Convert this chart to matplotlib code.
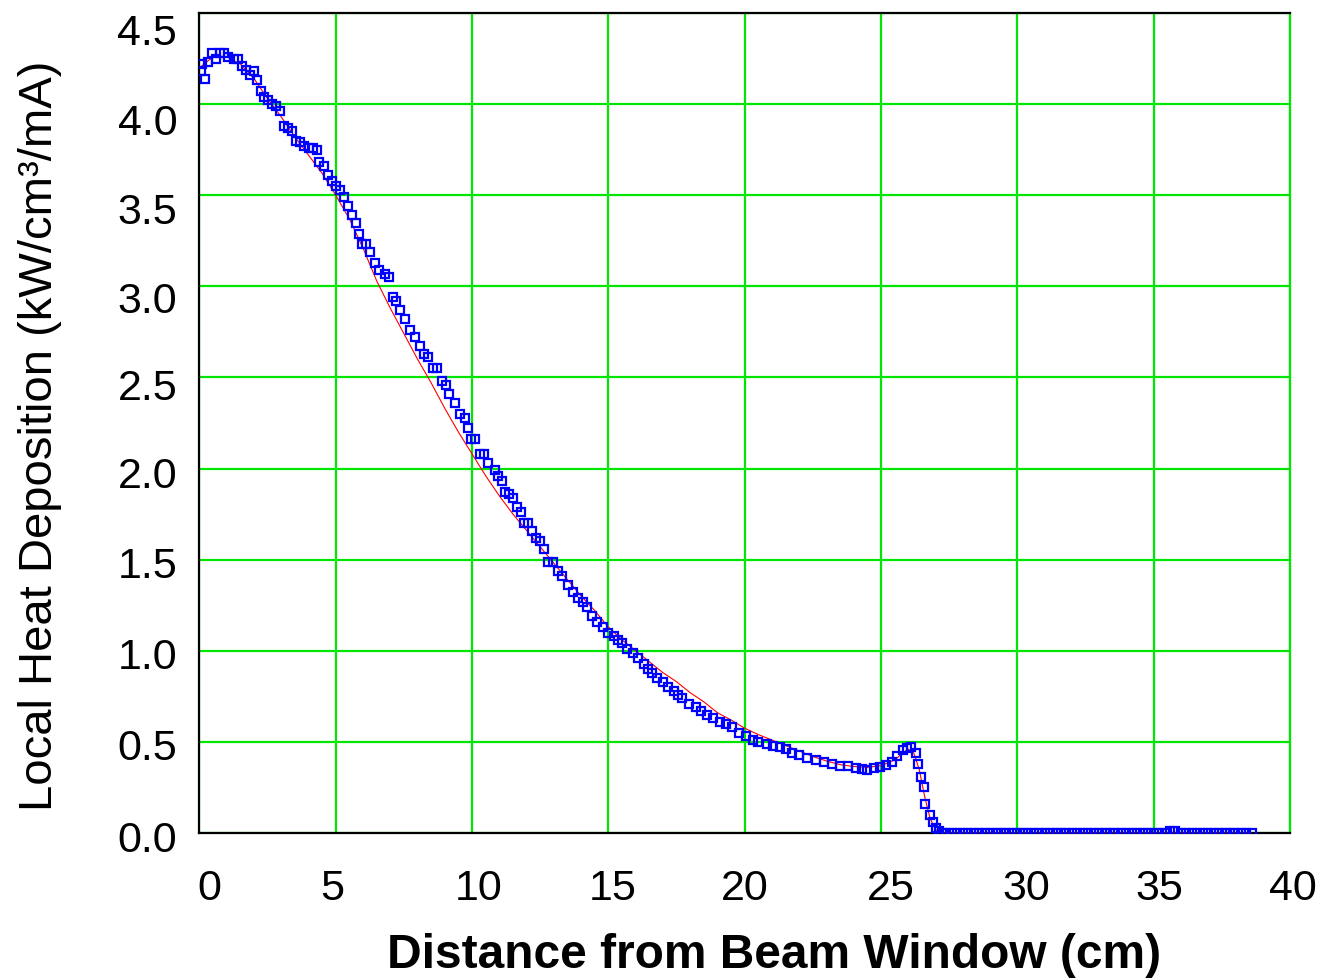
import matplotlib
matplotlib.use("Agg")
import matplotlib.pyplot as plt
import matplotlib.transforms as mtransforms
import numpy as np

plt.rcParams['font.family'] = ['Liberation Sans', 'DejaVu Sans']

depth = [0.05, 0.1, 0.2, 0.3, 0.45, 0.6, 0.75, 0.9, 1.05, 1.25, 1.4, 1.55, 1.7, 1.85,
         2.0, 2.1, 2.25, 2.35, 2.5, 2.65, 2.8, 2.95, 3.1, 3.25, 3.4, 3.55, 3.7, 3.85,
         4.0, 4.15, 4.3, 4.4, 4.55, 4.7, 4.85, 5.0, 5.15, 5.3, 5.45, 5.6, 5.75, 5.85,
         5.95, 6.1, 6.25, 6.45, 6.6, 6.8, 6.95, 7.1, 7.2, 7.36, 7.55, 7.73, 7.9, 8.1,
         8.25, 8.4, 8.55, 8.7, 8.9, 9.05, 9.15, 9.38, 9.56, 9.75, 9.85, 9.95, 10.1,
         10.3, 10.45, 10.6, 10.84, 10.95, 11.1, 11.2, 11.35, 11.5, 11.65, 11.8, 11.9,
         12.05, 12.2, 12.35, 12.5, 12.65, 12.8, 12.95, 13.15, 13.3, 13.5, 13.7, 13.9,
         14.05, 14.2, 14.4, 14.6, 14.8, 15.0, 15.2, 15.35, 15.5, 15.7, 15.9, 16.1,
         16.3, 16.45, 16.6, 16.8, 17.0, 17.2, 17.4, 17.55, 17.7, 17.95, 18.2, 18.4,
         18.6, 18.85, 19.1, 19.3, 19.55, 19.8, 20.05, 20.3, 20.5, 20.8, 21.05, 21.3,
         21.5, 21.75, 22.0, 22.3, 22.6, 22.9, 23.2, 23.5, 23.8, 24.1, 24.3, 24.5,
         24.75, 24.95, 25.2, 25.4, 25.6, 25.8, 25.95, 26.1, 26.3, 26.37, 26.48, 26.56,
         26.63, 26.78, 26.9, 27.03, 27.14, 27.25]
heat = [4.18, 4.22, 4.14, 4.23, 4.28, 4.25, 4.28, 4.28, 4.26, 4.25, 4.25, 4.21, 4.19, 4.16,
        4.18, 4.13, 4.07, 4.04, 4.02, 4.00, 3.99, 3.96, 3.88, 3.87, 3.85, 3.80, 3.79, 3.77,
        3.76, 3.76, 3.75, 3.68, 3.66, 3.61, 3.58, 3.55, 3.53, 3.49, 3.44, 3.39, 3.35, 3.29,
        3.23, 3.23, 3.19, 3.13, 3.09, 3.07, 3.05, 2.94, 2.92, 2.87, 2.82, 2.76, 2.72, 2.67,
        2.63, 2.61, 2.55, 2.55, 2.48, 2.46, 2.41, 2.36, 2.30, 2.28, 2.22, 2.16, 2.16,
        2.08, 2.08, 2.03, 1.99, 1.96, 1.93, 1.87, 1.86, 1.84, 1.79, 1.76, 1.70,
        1.70, 1.66, 1.62, 1.60, 1.56, 1.49, 1.49, 1.44, 1.41, 1.36, 1.32, 1.29,
        1.27, 1.24, 1.19, 1.16, 1.13, 1.10, 1.08, 1.06, 1.04, 1.01, 0.99, 0.96,
        0.93, 0.90, 0.88, 0.85, 0.83, 0.80, 0.78, 0.76, 0.74, 0.71, 0.69, 0.67,
        0.65, 0.63, 0.61, 0.60, 0.58, 0.55, 0.53, 0.51, 0.50, 0.49, 0.48, 0.47,
        0.46, 0.44, 0.43, 0.41, 0.40, 0.39, 0.38, 0.37, 0.365, 0.355, 0.35, 0.345,
        0.355, 0.36, 0.375, 0.39, 0.42, 0.455, 0.465, 0.47, 0.44, 0.38, 0.31, 0.25,
        0.16, 0.10, 0.06, 0.03, 0.01, 0.0]

# flat tail beyond the drop
tail_x = np.arange(27.4, 38.61, 0.2)
tail_y = np.zeros(len(tail_x))
tail_y[np.abs(tail_x - 35.7) < 0.25] = 0.012

# calculated curve (red line)
calc_x = [0.0, 0.5, 1.0, 1.5, 2.0, 2.5, 3.0, 3.5, 4.0, 4.5, 5.0, 5.5, 6.0, 6.5, 7.0,
          7.5, 8.0, 8.5, 9.0, 9.5, 10.0, 10.5, 11.0, 11.5, 12.0, 12.5, 13.0, 13.5,
          14.0, 14.5, 15.0, 15.5, 16.0, 16.5, 17.0, 17.5, 18.0, 18.5, 19.0, 19.5,
          20.0, 20.5, 21.0, 21.5, 22.0, 22.5, 23.0, 23.5, 24.0, 24.5, 25.0, 25.5,
          25.8, 26.0, 26.2, 26.4, 26.6, 26.8, 27.0, 27.2, 38.6]
calc_y = [4.20, 4.26, 4.26, 4.22, 4.14, 4.03, 3.93, 3.82, 3.72, 3.62, 3.50, 3.37, 3.21,
          3.03, 2.88, 2.74, 2.60, 2.47, 2.33, 2.20, 2.08, 1.96, 1.85, 1.75, 1.66, 1.57,
          1.48, 1.39, 1.30, 1.22, 1.13, 1.06, 1.00, 0.94, 0.88, 0.83, 0.77, 0.72, 0.66,
          0.62, 0.575, 0.54, 0.51, 0.48, 0.45, 0.42, 0.395, 0.375, 0.365, 0.36, 0.37,
          0.40, 0.44, 0.46, 0.44, 0.35, 0.20, 0.08, 0.02, 0.0, 0.0]

x_ticks = [0, 5, 10, 15, 20, 25, 30, 35, 40]
y_ticks = [0.0, 0.5, 1.0, 1.5, 2.0, 2.5, 3.0, 3.5, 4.0, 4.5]

fig = plt.figure(figsize=(13.21, 9.80), dpi=100)
ax = fig.add_axes([0.151, 0.15, 0.8255, 0.8367])

ax.plot(calc_x, calc_y, color='red', linewidth=0.8, zorder=3)
sq = dict(linestyle='none', marker='s', markersize=6.2, markerfacecolor='none',
          markeredgecolor='#0000ff', markeredgewidth=1.6, zorder=4)
ax.plot(depth, heat, **sq)
ax.plot(tail_x, tail_y, **sq)

ax.set_xlim(0, 40)
ax.set_ylim(0, 4.5)
ax.set_xticks(x_ticks)
ax.set_yticks(y_ticks)
ax.set_yticklabels([f"{v:.1f}" for v in y_ticks])
ax.grid(True, color='#00e600', linewidth=1.6, zorder=1)
ax.set_axisbelow(True)
ax.tick_params(length=0, labelsize=31)
ax.tick_params(axis='x', pad=26)
ax.tick_params(axis='y', pad=16)

# the original program placed its tick labels slightly off the grid lines
x_nudge = [10, -4, 7, 4, 0, 10, 9, 6, 3]
y_nudge = [3, 3, 3, 3, 4, 7, 11, 13, 15, 16]
for lab, dx in zip(ax.get_xticklabels(), x_nudge):
    lab.set_transform(lab.get_transform() +
                      mtransforms.ScaledTranslation(dx / 100, 0, fig.dpi_scale_trans))
for lab, dy in zip(ax.get_yticklabels(), y_nudge):
    lab.set_transform(lab.get_transform() +
                      mtransforms.ScaledTranslation(0, -dy / 100, fig.dpi_scale_trans))

for side in ['left', 'bottom', 'top']:
    ax.spines[side].set_color('black')
    ax.spines[side].set_linewidth(1.6)
ax.spines['right'].set_color('#00e600')
ax.spines['right'].set_linewidth(1.6)

ax.set_xlabel("Distance from Beam Window (cm)", fontsize=34.5, fontweight='bold')
ax.xaxis.set_label_coords(0.527, -0.122)
ax.set_ylabel("Local Heat Deposition (kW/cm³/mA)", fontsize=34)
ax.yaxis.set_label_coords(-0.126, 0.485)

fig.savefig("out.png", dpi=100)
